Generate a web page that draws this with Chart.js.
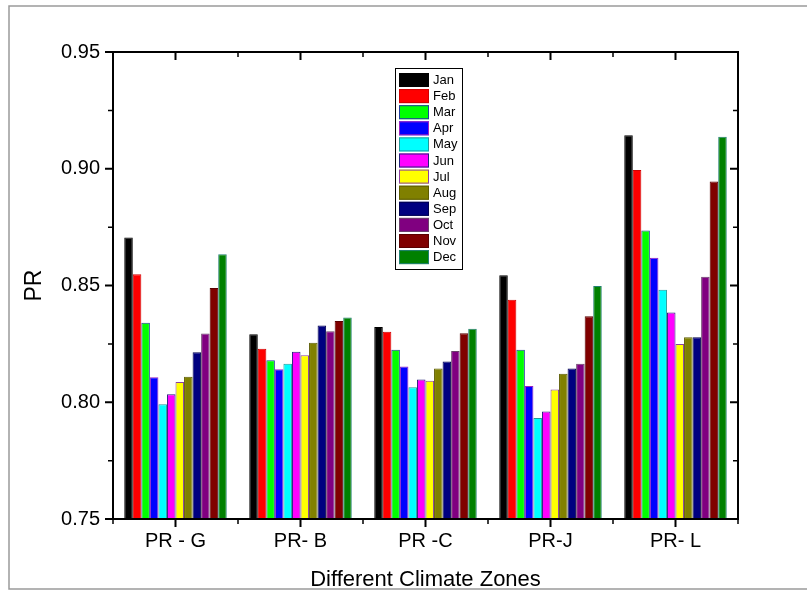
<!DOCTYPE html>
<html>
<head>
<meta charset="utf-8">
<title>PR by climate zone</title>
<script src="https://cdn.jsdelivr.net/npm/chart.js@4.4.1/dist/chart.umd.min.js"></script>
<style>
  html, body { margin: 0; padding: 0; background: #fff; }
  #chart { display: block; }
</style>
</head>
<body>
<canvas id="chart" width="807" height="591"></canvas>
<script>
// ---------- data ----------
const zones = ["PR - G", "PR- B", "PR -C", "PR-J", "PR- L"];
const months = ["Jan", "Feb", "Mar", "Apr", "May", "Jun", "Jul", "Aug", "Sep", "Oct", "Nov", "Dec"];

// one array per month, values per zone (G, B, C, J, L)
const jan = [0.8706, 0.8291, 0.8322, 0.8544, 0.9143];
const feb = [0.8548, 0.8229, 0.8302, 0.8439, 0.8995];
const mar = [0.8341, 0.8180, 0.8225, 0.8225, 0.8736];
const apr = [0.8107, 0.8141, 0.8153, 0.8070, 0.8619];
const may = [0.7991, 0.8165, 0.8064, 0.7933, 0.8482];
const jun = [0.8034, 0.8216, 0.8097, 0.7960, 0.8384];
const jul = [0.8087, 0.8201, 0.8092, 0.8055, 0.8249];
const aug = [0.8109, 0.8255, 0.8145, 0.8122, 0.8278];
const sep = [0.8214, 0.8329, 0.8174, 0.8145, 0.8278];
const oct = [0.8294, 0.8304, 0.8219, 0.8165, 0.8538];
const nov = [0.8489, 0.8348, 0.8295, 0.8368, 0.8945];
const dec = [0.8634, 0.8363, 0.8315, 0.8498, 0.9137];

const yTicks = [0.75, 0.80, 0.85, 0.90, 0.95];

const fillColors = ["#000000", "#ff0000", "#00ff00", "#0000ff", "#00ffff", "#ff00ff",
                    "#ffff00", "#808000", "#000080", "#800080", "#800000", "#008000"];
const edgeColors = ["#000000", "#d00000", "#203c9c", "#9a20c0", "#209a9a", "#22207a",
                    "#8a40a0", "#5c5c00", "#000050", "#6a406a", "#5a0000", "#208070"];

const series = [jan, feb, mar, apr, may, jun, jul, aug, sep, oct, nov, dec];
const FONT = "Arial, 'Liberation Sans', sans-serif";

// ---------- plugins: frame, axis box + ticks, legend ----------
const framePlugin = {
  id: "frame",
  afterDraw(chart) {
    const c = chart.ctx;
    const a = chart.chartArea;
    const xs = chart.scales.x;
    const ys = chart.scales.y;
    c.save();

    // grey outer frame
    c.strokeStyle = "#9a9a9a";
    c.lineWidth = 1.5;
    c.beginPath();
    c.moveTo(807, 6); c.lineTo(9, 6); c.lineTo(9, 589); c.lineTo(807, 589);
    c.stroke();

    // axis box
    c.strokeStyle = "#000";
    c.lineWidth = 2;
    c.strokeRect(a.left, a.top, a.right - a.left, a.bottom - a.top);

    // y ticks (major + minor)
    const ySteps = [];
    yTicks.forEach((v, i) => {
      ySteps.push({ v, len: 8 });
      if (i < yTicks.length - 1) ySteps.push({ v: (v + yTicks[i + 1]) / 2, len: 5 });
    });
    ySteps.forEach((t) => {
      const py = ys.getPixelForValue(t.v);
      c.lineWidth = t.len === 8 ? 2 : 1.5;
      c.beginPath();
      c.moveTo(a.left - t.len, py); c.lineTo(a.left, py);
      c.moveTo(a.right, py); c.lineTo(a.right - t.len, py);
      c.stroke();
    });

    // x ticks: major at centers, minor at category boundaries
    const step = xs.getPixelForValue(1) - xs.getPixelForValue(0);
    zones.forEach((z, i) => {
      const px = xs.getPixelForValue(i);
      c.lineWidth = 2;
      c.beginPath();
      c.moveTo(px, a.bottom); c.lineTo(px, a.bottom + 8);
      c.moveTo(px, a.top); c.lineTo(px, a.top + 8);
      c.stroke();
    });
    for (let i = 0; i <= zones.length; i++) {
      const px = xs.getPixelForValue(0) + (i - 0.5) * step;
      c.lineWidth = 1.5;
      c.beginPath();
      c.moveTo(px, a.bottom); c.lineTo(px, a.bottom + 5);
      c.moveTo(px, a.top); c.lineTo(px, a.top + 5);
      c.stroke();
    }

    // legend
    const lx = 395, ly = 68, rowH = 16.1;
    c.fillStyle = "#fff";
    c.fillRect(lx, ly, 67, 201);
    c.lineWidth = 1;
    c.strokeStyle = "#000";
    c.strokeRect(lx + 0.5, ly + 0.5, 67, 201);
    c.font = "13px " + FONT;
    c.textBaseline = "middle";
    c.textAlign = "left";
    chart.data.datasets.forEach((ds, i) => {
      const sy = ly + 5 + i * rowH;
      c.fillStyle = ds.backgroundColor;
      c.fillRect(lx + 4, sy, 30, 14);
      c.strokeStyle = ds.borderColor;
      c.strokeRect(lx + 4.5, sy + 0.5, 29, 13);
      c.fillStyle = "#000";
      c.fillText(ds.label, lx + 38, sy + 7.5);
    });

    c.restore();
  },
};

// ---------- chart ----------
const ctx = document.getElementById("chart").getContext("2d");

new Chart(ctx, {
  type: "bar",
  data: {
    labels: zones,
    datasets: months.map((m, i) => ({
      label: m,
      data: series[i],
      backgroundColor: fillColors[i],
      borderColor: edgeColors[i],
      borderWidth: 1,
      categoryPercentage: 0.82,
      barPercentage: 1.0,
    })),
  },
  options: {
    responsive: false,
    animation: false,
    devicePixelRatio: 1,
    layout: { padding: { left: 0, top: 52, right: 69, bottom: 0 } },
    plugins: {
      legend: { display: false },
      tooltip: { enabled: false },
    },
    scales: {
      x: {
        grid: { display: false, drawTicks: false },
        border: { display: false },
        ticks: { color: "#000", font: { family: FONT, size: 20 }, padding: 10 },
        title: {
          display: true,
          text: "Different Climate Zones",
          color: "#000",
          font: { family: FONT, size: 22 },
          padding: { top: 0, bottom: -2 },
        },
        afterFit(scale) { scale.height = 72; },
      },
      y: {
        min: 0.75,
        max: 0.95,
        grid: { display: false, drawTicks: false },
        border: { display: false },
        ticks: {
          stepSize: 0.05,
          color: "#000",
          font: { family: FONT, size: 20 },
          padding: 13,
          callback: (v) => Number(v).toFixed(2),
        },
        title: {
          display: true,
          text: "PR",
          color: "#000",
          font: { family: FONT, size: 23 },
          padding: { top: 21, bottom: 0 },
        },
        afterFit(scale) { scale.width = 113; },
      },
    },
  },
  plugins: [framePlugin],
});
</script>
</body>
</html>
